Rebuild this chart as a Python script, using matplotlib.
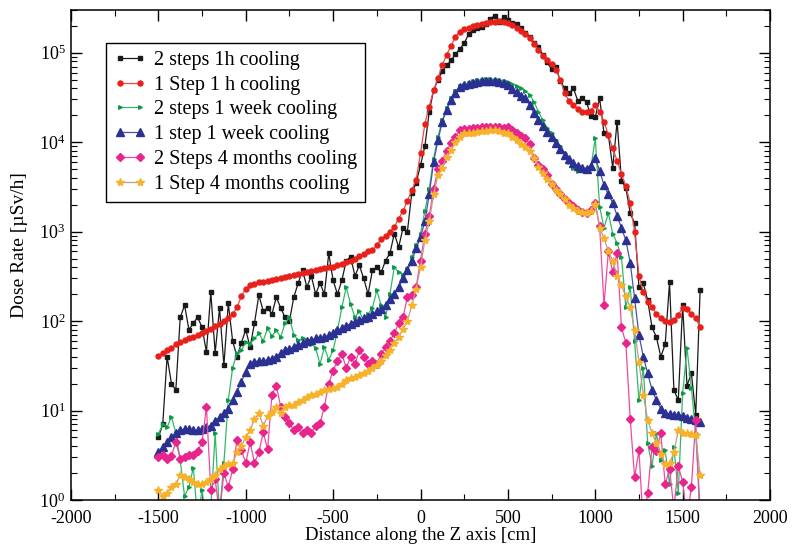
import numpy as np
import matplotlib
matplotlib.use('Agg')
import matplotlib.pyplot as plt
from matplotlib.ticker import LogLocator, LogFormatterMathtext, MultipleLocator, NullFormatter

plt.rcParams['font.family'] = ['Liberation Serif', 'DejaVu Serif']
plt.rcParams['mathtext.fontset'] = 'stix'
plt.rcParams['axes.unicode_minus'] = False

# positions along Z (cm), one value every 25 cm
z = np.arange(-1500, 1601, 25)

# 2 steps 1h cooling
two_steps_1h = [
    5, 7, 40, 20, 17, 110, 150, 80, 95, 110, 85, 45, 210, 44, 140, 32, 158, 60, 40, 57,
    80, 51, 95, 195, 130, 140, 120,
    185, 140, 110, 100, 185, 265, 370, 240, 320, 200, 265, 200, 570, 285, 200, 285, 475, 520, 320, 420,
    300, 200, 370, 400, 350, 475,
    570, 950, 670, 1100, 1000, 2700, 3500, 5500, 9000, 22000, 38000, 50000, 62000, 72000, 82000, 96000,
    110000, 128000, 160000, 180000, 190000, 192000, 210000, 240000, 260000, 220000,
    250000, 230000, 215000, 210000, 190000, 165000, 150000, 130000, 115000, 95000,
    78000, 65000, 70000, 48000, 40000, 35000, 40000, 29000, 31000, 28000,
    19500, 19000, 31000, 12500, 12000, 5200, 17000, 3700, 3100, 1600,
    1250, 240, 265, 170, 85, 66, 40, 55, 270, 17,
    13, 150, 19, 26, 9, 220,
]

# 1 Step 1 h cooling
one_step_1h = [
    41, 44, 47, 50, 55, 58, 61, 64, 67, 70, 74, 78, 82, 87, 93, 100, 108, 120, 142, 190,
    230, 250, 262, 270, 275, 280, 285, 292, 300, 310, 318, 326, 333, 342, 352, 362, 372, 382, 392, 400,
    405, 420, 437, 455, 475, 500, 530, 565, 600, 620, 700, 830, 900, 1000, 1120, 1400, 1700, 2200, 2900, 3800,
    7500, 16000, 25000, 38000, 52000, 73000, 95000, 120000, 150000, 172000,
    182000, 190000, 197000, 202000, 207000, 212000, 218000, 222000, 224000, 222000,
    217000, 205000, 190000, 175000, 160000, 145000, 125000, 106000, 92000, 82000,
    74000, 64000, 50000, 35000, 29000, 26000, 23500, 22000, 21500, 22500,
    26000, 22000, 17000, 12000, 8500, 6200, 4400, 3200, 2100, 1000,
    320, 210, 165, 145, 120, 108, 100, 97, 102, 118,
    140, 135, 120, 108, 85,
]

# 2 steps 1 week cooling
two_steps_1w = [
    5.5, 7, 6.5, 8.5, 5.6, 2.8, 1.1, 1.4, 2.3, 0.6, 1.3, 0.5, 0.8, 5.6, 0.7, 2.6, 13, 30, 44, 47,
    58, 55, 64, 73, 60, 83,
    68, 79, 66, 95, 110, 70, 61, 64, 61, 56, 50, 33, 51, 37, 47, 79, 142, 240, 155, 110,
    130, 100, 120, 140, 220, 150, 110,
    200, 400, 350, 330, 380, 520, 700, 950, 1700, 3000, 6500, 11500, 17500, 24000, 31000, 37000,
    42000, 44000, 46000, 48000, 49000, 50000, 51000, 51000, 50000, 49000,
    48000, 47000, 45000, 42000, 40000, 37000, 34000, 28000, 22000, 17500,
    14500, 12500, 10500, 9000, 7500, 6000, 5200, 4800, 5100, 5000, 5200, 11000,
    1900, 1100, 1600, 950, 740, 520, 142, 240, 60, 13,
    30, 4.3, 2.4, 5.6, 2.8, 3.6, 1.5, 3.9, 1.2, 15.6, 50, 18, 5.6, 0.8,
]

# 1 step 1 week cooling
one_step_1w = [
    3.4, 3.9, 4.4, 5, 5.6, 6, 6.2, 6.2, 6.1, 6,
    6.2, 6.5, 6.8, 7.6, 8.5, 9.5, 10.5, 13, 16, 21,
    27, 33, 35, 36, 36, 37, 38, 40, 44, 47,
    49, 51, 54, 57, 60, 62, 64, 65, 66, 70,
    74, 79, 83, 88, 93, 98, 103, 108, 112, 120,
    128, 135, 150, 175, 200, 240, 300, 370, 470, 650,
    860, 1300, 2600, 6000, 10500, 17000, 23000, 29500, 35000, 41000,
    43000, 44500, 46000, 47000, 48000, 48500, 48500, 48000, 47000,
    46000, 43000, 39000, 36000, 33000, 31000, 26000, 21000, 17500, 15000,
    13000, 11500, 9800, 8300, 7200, 6400, 5800, 5400, 5100, 5000,
    5400, 6600, 4800, 3300, 2600, 2100, 1500, 1100, 800, 450,
    180, 70, 40, 26, 17, 13, 10.5, 9.5, 9.2, 9,
    9, 8.6, 8.3, 8, 7.8, 7.5,
]

# 2 Steps 4 months cooling
two_steps_4m = [
    3, 3.2, 2.9, 3.1, 4.5, 2.9, 3, 3.2, 3.2, 3.5, 4.4, 11, 1.3, 1.7, 0.7, 2, 1.4, 2.2, 4.7, 3.6,
    2.6, 4.4, 2.6, 3.4, 5.7, 3.7,
    15, 19, 11, 8.5, 7.2, 6, 6.5, 5.6, 6, 5.6, 6.8, 7.2, 11, 20, 28, 36, 43, 30, 40, 33,
    47, 40, 33, 36, 33, 43, 51,
    60, 73, 95, 110, 185, 195, 240, 475, 950, 1500, 3000, 5000, 6200, 8000, 9800, 11500,
    13500, 14000, 14200, 14300, 14500, 14600, 14700, 14800, 14800, 14700,
    14500, 14600, 13500, 12500, 11800, 11000, 9500, 6700, 5600, 5000,
    4300, 3400, 3000, 2600, 2300, 2100, 1950, 1750, 1650, 1600, 1750,
    2100, 1150, 150, 600, 350, 580, 85, 57, 8, 1.8,
    3.6, 0.5, 1.2, 3.9, 3.5, 5.6, 1.5, 2.2, 0.8, 2.4, 1.6, 0.6, 1.4, 7.8, 0.5,
]

# 1 Step 4 months cooling
one_step_4m = [
    1.3, 1.1, 1.2, 1.4, 1.5, 1.9, 1.8, 1.7, 1.6, 1.5, 1.5, 1.6, 1.7, 1.9, 2.2, 2.4, 2.5, 2.6, 3.4, 4,
    5, 6, 8, 9.3, 6.8, 8.6,
    9.6, 11, 9.5, 11, 11.5, 11.5, 12.5, 13, 14, 14.8, 15.5, 16, 17, 17.5, 18, 18.5, 20, 22, 23, 24,
    25, 26, 28, 30, 32, 36, 42,
    48, 57, 66, 82, 100, 150, 230, 400, 800, 1300, 2600, 4300, 5200, 6800, 8200, 10000,
    11500, 12500, 12700, 12800, 13000, 13200, 13400, 13500, 13500, 13300,
    12800, 12500, 11500, 10500, 9600, 8800, 8000, 6700, 5300, 4500,
    3900, 3400, 2900, 2600, 2300, 2000, 1850, 1700, 1650, 1600, 1700,
    2050, 1100, 840, 600, 475, 320, 250, 190, 142, 80,
    35, 15, 7.8, 5.6, 4.3, 3.3, 2.5, 2.6, 3.4, 6, 5.6, 5.6, 5.5, 5.3, 1.9,
]

series = [
    (two_steps_1h, "2 steps 1h cooling", dict(color='#1a1a1a', marker='s', ms=2.2, mfc='#1a1a1a', mec='#1a1a1a')),
    (one_step_1h, "1 Step 1 h cooling", dict(color='#f04848', marker='o', ms=3.6, mfc='#e8201c', mec='#e8201c')),
    (two_steps_1w, "2 steps 1 week cooling", dict(color='#33b86a', marker='>', ms=2.6, mfc='#0c9a48', mec='#0c9a48')),
    (one_step_1w, "1 step 1 week cooling", dict(color='#4a52a8', marker='^', ms=6.0, mfc='#2b3192', mec='#2b3192')),
    (two_steps_4m, "2 Steps 4 months cooling", dict(color='#f04aa0', marker='D', ms=4.0, mfc='#e8258c', mec='#e8258c')),
    (one_step_4m, "1 Step 4 months cooling", dict(color='#c09a90', marker='*', ms=6.0, mfc='#f8b22a', mec='#f8b22a')),
]

fig = plt.figure(figsize=(7.94, 5.5), dpi=100)
ax = fig.add_axes([0.0894, 0.0909, 0.8804, 0.8909])

for values, label, style in series:
    assert len(values) == len(z), (label, len(values))
    ax.plot(z, values, label=label, lw=0.9, **style)

ax.set_yscale('log')
ax.set_xlim(-2000, 2000)
ax.set_ylim(1, 3e5)

# ticks inside, on all four sides
ax.xaxis.set_major_locator(MultipleLocator(500))
ax.xaxis.set_minor_locator(MultipleLocator(250))
ax.yaxis.set_major_locator(LogLocator(base=10))
ax.yaxis.set_major_formatter(LogFormatterMathtext())
ax.yaxis.set_minor_locator(LogLocator(base=10, subs=np.arange(2, 10)))
ax.yaxis.set_minor_formatter(NullFormatter())
ax.tick_params(which='both', direction='in', top=True, right=True, labelsize=13)
ax.tick_params(axis='x', which='major', pad=7)
ax.tick_params(axis='y', which='major', pad=4)
ax.tick_params(which='major', length=8, width=1)
ax.tick_params(which='minor', length=4, width=0.8)
for sp in ax.spines.values():
    sp.set_linewidth(1.1)

ax.set_xlabel('Distance along the Z axis [cm]', fontsize=13.5, labelpad=0)
ax.set_ylabel('Dose Rate [µSv/h]', fontsize=14)
ax.yaxis.set_label_coords(-0.062, 0.52)

leg = ax.legend(loc='upper left', bbox_to_anchor=(0.05, 0.933), borderaxespad=0,
                fontsize=14.5, numpoints=2, handlelength=1.6, handletextpad=0.4,
                labelspacing=0.28, borderpad=0.4, fancybox=False, framealpha=1,
                edgecolor='black')
leg.get_frame().set_linewidth(1.0)

fig.savefig('out.png', dpi=100)
